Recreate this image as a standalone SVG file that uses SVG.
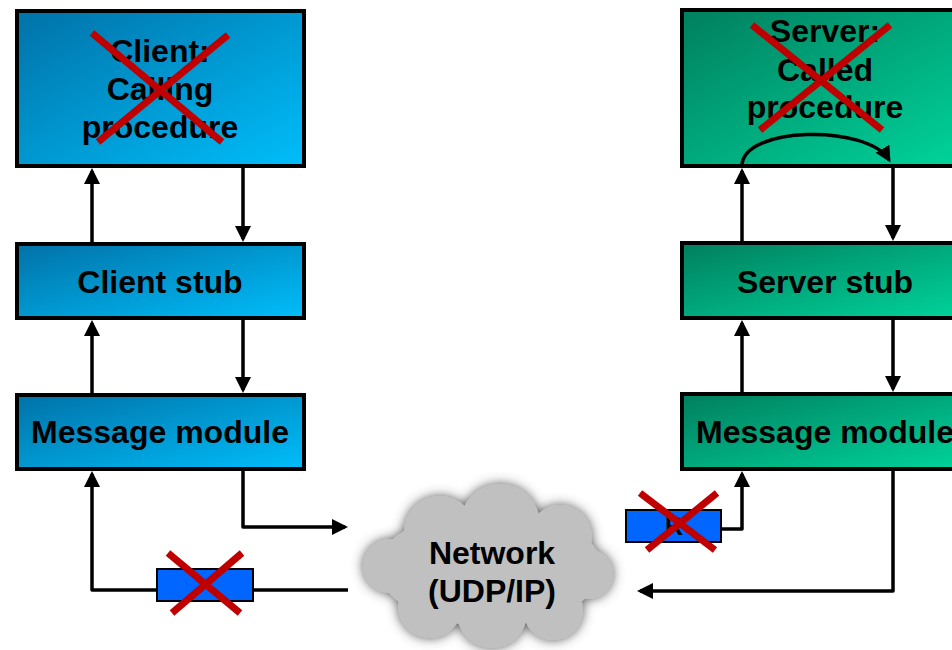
<svg xmlns="http://www.w3.org/2000/svg" width="952" height="650" viewBox="0 0 952 650">
  <defs>
    <linearGradient id="gClient" x1="0" y1="0" x2="1" y2="1">
      <stop offset="0" stop-color="#0072A8"/>
      <stop offset="1" stop-color="#00BEFA"/>
    </linearGradient>
    <linearGradient id="gServer" x1="0" y1="0" x2="1" y2="1">
      <stop offset="0" stop-color="#007F5E"/>
      <stop offset="1" stop-color="#00D59C"/>
    </linearGradient>
    <filter id="cloudShadow" x="-20%" y="-30%" width="140%" height="160%">
      <feGaussianBlur in="SourceAlpha" stdDeviation="6" result="b"/>
      <feFlood flood-color="#404040" flood-opacity="0.9"/>
      <feComposite in2="b" operator="in" result="s"/>
      <feMerge>
        <feMergeNode in="s"/>
        <feMergeNode in="SourceGraphic"/>
      </feMerge>
    </filter>
    <marker id="arrow" markerUnits="userSpaceOnUse" markerWidth="16" markerHeight="16" refX="13" refY="8" orient="auto">
      <path d="M0,0 L16,8 L0,16 z" fill="#000"/>
    </marker>
  </defs>
  <style>
    .client { fill: url(#gClient); stroke: #000; stroke-width: 4; }
    .server { fill: url(#gServer); stroke: #000; stroke-width: 4; }
    .lbl { font-family: "Liberation Sans", Arial, sans-serif; font-weight: bold; font-size: 32px; fill: #000; text-anchor: middle; }
    .conn { fill: none; stroke: #000; stroke-width: 3.5; stroke-linejoin: round; }
    .arr { marker-end: url(#arrow); }
    .cross { stroke: #C00000; stroke-width: 7; }
    .msg { fill: #0066FF; stroke: #000; stroke-width: 2; }
  </style>

  <g id="connectors">
    <path class="conn arr" d="M92,242 L92,171"/>
    <path class="conn arr" d="M243,168 L243,239"/>
    <path class="conn arr" d="M92,393 L92,323"/>
    <path class="conn arr" d="M243,320 L243,390"/>
    <path class="conn arr" d="M243,471 L243,527 L345,527"/>
    <path class="conn" d="M348,590 L253,590"/>
    <path class="conn arr" d="M157,590 L92,590 L92,474"/>
    <path class="conn arr" d="M742,241 L742,171"/>
    <path class="conn arr" d="M893,168 L893,238"/>
    <path class="conn arr" d="M742,392 L742,323"/>
    <path class="conn arr" d="M893,320 L893,389"/>
    <path class="conn arr" d="M721,529 L742,529 L742,474"/>
    <path class="conn arr" d="M893,471 L893,591 L640,591"/>
  </g>

  <g id="client-proc">
    <rect class="client" x="17" y="11" width="287" height="155"/>
    <text class="lbl" x="160" y="62">Client:</text>
    <text class="lbl" x="160" y="100">Calling</text>
    <text class="lbl" x="160" y="138">procedure</text>
    <line class="cross" x1="92" y1="33" x2="222" y2="142"/>
    <line class="cross" x1="228" y1="35" x2="98" y2="142"/>
  </g>

  <g id="client-stub">
    <rect class="client" x="17" y="244" width="287" height="74"/>
    <text class="lbl" x="160" y="293">Client stub</text>
  </g>

  <g id="client-msg">
    <rect class="client" x="17" y="395" width="287" height="74"/>
    <text class="lbl" x="160" y="443">Message module</text>
  </g>

  <g id="server-proc">
    <rect class="server" x="682" y="10" width="287" height="156"/>
    <text class="lbl" x="825" y="42">Server:</text>
    <text class="lbl" x="825" y="81">Called</text>
    <text class="lbl" x="825" y="118">procedure</text>
    <path class="conn arr" d="M742,166 C742,126 868,124 889,160"/>
    <line class="cross" x1="752" y1="25" x2="882" y2="130"/>
    <line class="cross" x1="890" y1="25" x2="760" y2="130"/>
  </g>

  <g id="server-stub">
    <rect class="server" x="682" y="243" width="287" height="75"/>
    <text class="lbl" x="825" y="293">Server stub</text>
  </g>

  <g id="server-msg">
    <rect class="server" x="682" y="394" width="287" height="75"/>
    <text class="lbl" x="825" y="443">Message module</text>
  </g>

  <g id="network">
    <g filter="url(#cloudShadow)" fill="#C0C0C0">
      <ellipse cx="490" cy="568" rx="112" ry="58"/>
      <circle cx="440" cy="532" r="36"/>
      <circle cx="500" cy="524" r="40"/>
      <circle cx="560" cy="537" r="32"/>
      <circle cx="588" cy="574" r="25"/>
      <circle cx="553" cy="610" r="30"/>
      <circle cx="492" cy="613" r="35"/>
      <circle cx="430" cy="606" r="32"/>
      <circle cx="390" cy="566" r="27"/>
    </g>
    <text class="lbl" x="492" y="564">Network</text>
    <text class="lbl" x="492" y="602">(UDP/IP)</text>
  </g>

  <g id="reply-msg">
    <rect class="msg" x="157" y="569" width="96" height="32"/>
    <line class="cross" x1="168" y1="553" x2="240" y2="613"/>
    <line class="cross" x1="242" y1="553" x2="172" y2="613"/>
  </g>

  <g id="request-msg">
    <rect class="msg" x="626" y="510" width="95" height="32"/>
    <text x="674" y="535" font-family="Liberation Sans, Arial, sans-serif" font-weight="bold" font-size="25" text-anchor="middle" fill="#000">R</text>
    <line class="cross" x1="640" y1="493" x2="715" y2="550"/>
    <line class="cross" x1="717" y1="493" x2="647" y2="550"/>
  </g>
</svg>
